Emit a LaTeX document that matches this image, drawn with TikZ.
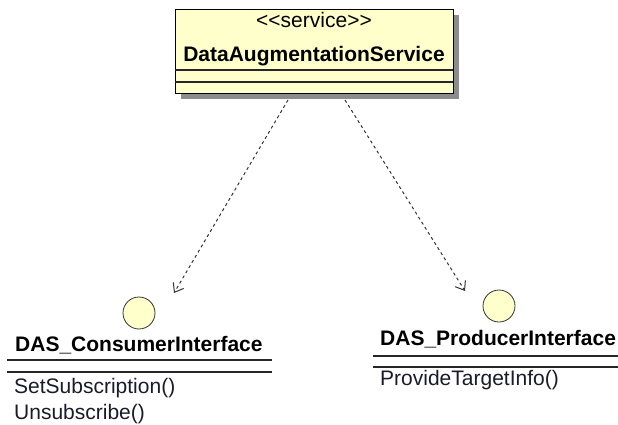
\documentclass[tikz,border=0pt]{standalone}
\usepackage{fontspec}
\setmainfont{Liberation Sans}
\usetikzlibrary{arrows.meta,shadows}
\definecolor{umlfill}{HTML}{FFFFCC}
\definecolor{umlline}{HTML}{333333}
\definecolor{umltext}{HTML}{1A1A2A}
\begin{document}
\begin{tikzpicture}[x=1pt,y=-1pt,
  classbox/.style={draw=black, line width=1.2pt, fill=umlfill, minimum width=278pt, minimum height=84pt, inner sep=0pt, anchor=north west,
    drop shadow={shadow xshift=5pt, shadow yshift=-5pt, fill=black!45, opacity=1}},
  iface/.style={circle, draw=umlline, line width=0.8pt, fill=umlfill, minimum size=32pt, inner sep=0pt},
  txt/.style={font=\fontsize{21}{25}\selectfont, text=umltext, inner sep=0pt, anchor=base},
  btxt/.style={txt, font=\fontsize{21}{25}\selectfont\bfseries, text=black},
  sep/.style={line width=1.1pt, draw=black!85},
  dep/.style={draw=black!80, line width=1pt, dash pattern=on 3pt off 3pt, -{Straight Barb[length=8pt, width=12pt, line width=1pt]}}
]
\useasboundingbox (0,0) rectangle (618,425);
% service class
\node[classbox] (svc) at (175,9) {};
\node[txt, text=black] (stereo) at (314,28) {<{}<service>{}>};
\node[btxt] (svcname) at (314,62) {DataAugmentationService};
\draw[sep] (175,70) -- (453,70);
\draw[sep] (175,82) -- (453,82);
% interfaces
\node[iface] (ci) at (139,313) {};
\node[iface] (pi) at (499,306) {};
\node[btxt, anchor=base west] (ciname) at (15,351) {DAS\_ConsumerInterface};
\draw[sep] (7,360) -- (272,360);
\draw[sep] (7,372) -- (272,372);
\node[txt, anchor=base west] (m1) at (14,393) {SetSubscription()};
\node[txt, anchor=base west] (m2) at (14,419) {Unsubscribe()};
\node[btxt, anchor=base west] (piname) at (380,345) {DAS\_ProducerInterface};
\draw[sep] (373,356) -- (618,356);
\draw[sep] (373,367) -- (618,367);
\node[txt, anchor=base west] (m3) at (380,385) {ProvideTargetInfo()};
% dependencies
\coordinate (s1) at (288,100);
\coordinate (e1) at (174,293);
\coordinate (s2) at (345,100);
\coordinate (e2) at (465,291);
\draw[dep] (s1) -- (e1);
\draw[dep] (s2) -- (e2);
\end{tikzpicture}
\end{document}
